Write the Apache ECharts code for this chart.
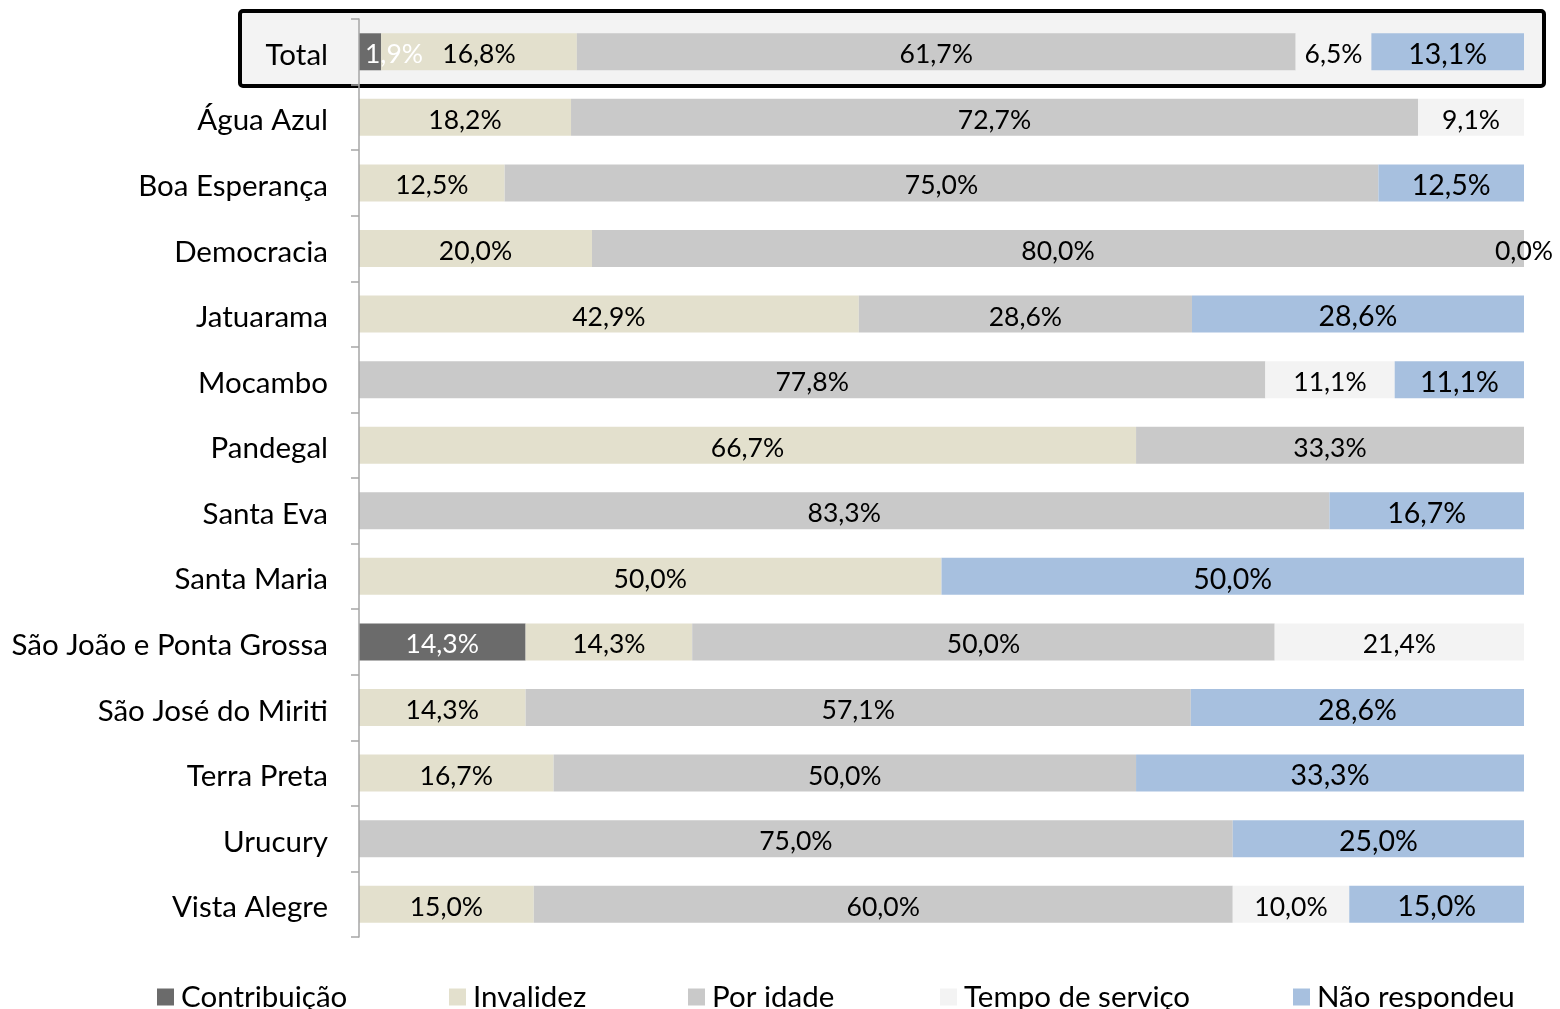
<!DOCTYPE html>
<html>
<head>
<meta charset="utf-8">
<script src="https://cdn.jsdelivr.net/npm/echarts@6/dist/echarts.min.js"></script>
<style>
  html, body { margin: 0; padding: 0; background: #ffffff; }
  #chart { width: 1560px; height: 1009px; }
</style>
</head>
<body>
<div id="chart"></div>
<script>
// Communities (top to bottom)
const categories = [
  'Total', 'Água Azul', 'Boa Esperança', 'Democracia', 'Jatuarama', 'Mocambo',
  'Pandegal', 'Santa Eva', 'Santa Maria', 'São João e Ponta Grossa',
  'São José do Miriti', 'Terra Preta', 'Urucury', 'Vista Alegre'
];

// Share of each retirement type per community (%); null = not present
const contribuicao    = [1.9, null, null, null, null, null, null, null, null, 14.3, null, null, null, null];
const invalidez       = [16.8, 18.2, 12.5, 20.0, 42.9, null, 66.7, null, 50.0, 14.3, 14.3, 16.7, null, 15.0];
const porIdade        = [61.7, 72.7, 75.0, 80.0, 28.6, 77.8, 33.3, 83.3, null, 50.0, 57.1, 50.0, 75.0, 60.0];
const tempoServico    = [6.5, 9.1, null, 0.0, null, 11.1, null, null, null, 21.4, null, null, null, 10.0];
const naoRespondeu    = [13.1, null, 12.5, null, 28.6, 11.1, null, 16.7, 50.0, null, 28.6, 33.3, 25.0, 15.0];

const seriesNames = ['Contribuição', 'Invalidez', 'Por idade', 'Tempo de serviço', 'Não respondeu'];
const seriesData = [contribuicao, invalidez, porIdade, tempoServico, naoRespondeu];
const colors = ['#6b6b6b', '#e3e0cd', '#c9c9c9', '#f3f3f3', '#a7c0df'];
const labelColors = ['#ffffff', '#000000', '#000000', '#000000', '#000000'];
const labelSizes = [26.5, 26.5, 26.5, 26.5, 28.5];

const FONT = 'Lato, "Open Sans", sans-serif';
const fmt = v => v.toFixed(1).replace('.', ',') + '%';

const series = seriesData.map((arr, si) => ({
  name: seriesNames[si],
  type: 'bar',
  stack: 'total',
  barWidth: 37,
  itemStyle: { color: colors[si] },
  label: {
    show: true,
    position: 'inside',
    offset: [0, 3],
    color: labelColors[si],
    fontFamily: FONT,
    fontSize: labelSizes[si],
    formatter: p => fmt(p.value)
  },
  emphasis: { disabled: true },
  data: arr.map((v, i) => {
    // the narrow first segment of the Total bar gets its label anchored at the left
    if (si === 0 && i === 0 && v !== null) {
      return { value: v, label: { position: 'insideLeft', distance: 6 } };
    }
    return v;
  })
}));

// one legend block per series so the items sit at their own columns
const legendLefts = [157, 449, 688, 940, 1293];
const legends = seriesNames.map((n, i) => ({
  data: [n],
  left: legendLefts[i],
  top: 982,
  itemWidth: 17,
  itemHeight: 17,
  itemGap: 0,
  padding: 0,
  selectedMode: false,
  icon: 'rect',
  textStyle: { fontFamily: FONT, fontSize: 29.5, color: '#000000', padding: [0, 0, 0, 2] }
}));

const chart = echarts.init(document.getElementById('chart'), null, { renderer: 'canvas' });
chart.setOption({
  animation: false,
  backgroundColor: '#ffffff',
  grid: { left: 359, right: 36, top: 19, bottom: 72, containLabel: false },
  legend: legends,
  xAxis: {
    type: 'value',
    min: 0,
    max: 100,
    show: false
  },
  yAxis: {
    type: 'category',
    inverse: true,
    data: categories,
    axisLine: { show: true, lineStyle: { color: '#a6a6a6', width: 1.5 } },
    axisTick: { show: true, length: 8, lineStyle: { color: '#a6a6a6', width: 1.5 } },
    axisLabel: {
      margin: 31,
      formatter: v => '{c|' + v + '}',
      rich: {
        c: { fontFamily: FONT, fontSize: 29.5, color: '#000000', padding: [7, 0, 0, 0] }
      }
    },
    z: 5
  },
  graphic: [{
    type: 'rect',
    z: -10,
    silent: true,
    shape: { x: 240, y: 11, width: 1304, height: 75, r: 3 },
    style: { fill: '#f3f3f3', stroke: '#000000', lineWidth: 4 }
  }],
  series: series
});
</script>
</body>
</html>
